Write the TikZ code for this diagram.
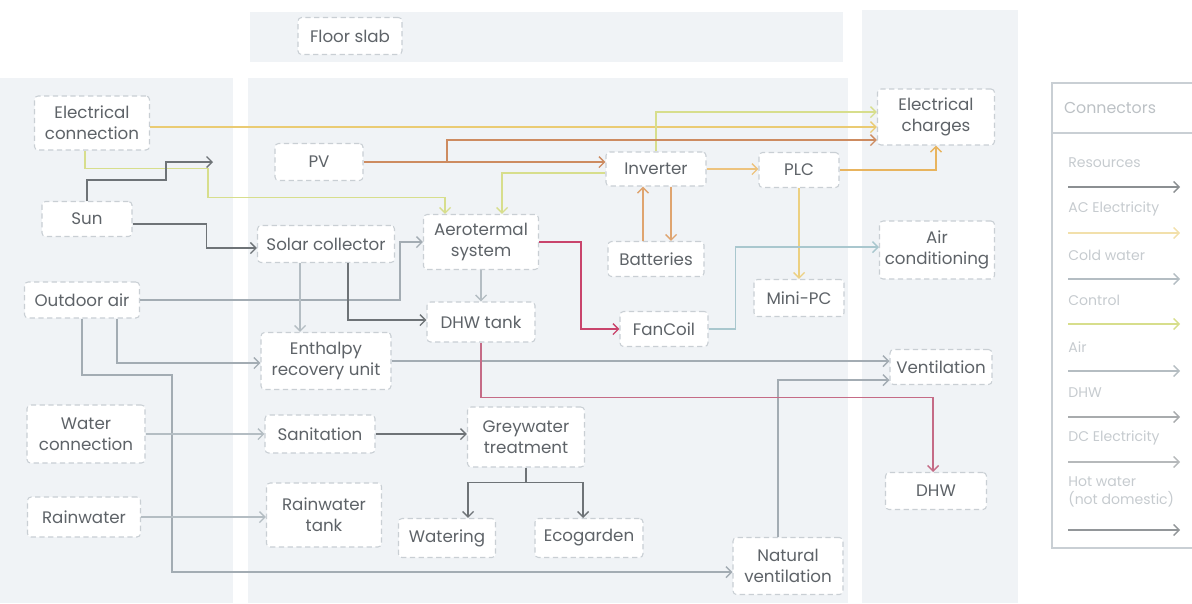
\documentclass[tikz,border=0pt]{standalone}
\usepackage{fontspec}
\setmainfont{Poppins}
\usepackage{xcolor}
\usepackage{tikz}
\usetikzlibrary{arrows.meta, positioning, calc}
\definecolor{Ink}{HTML}{5E6368}
\definecolor{Line}{HTML}{C9CFD4}
\definecolor{Panel}{HTML}{F0F3F6}
\definecolor{ResLine}{HTML}{6E7377}
\definecolor{AirLine}{HTML}{A3ACB3}
\definecolor{ColdLine}{HTML}{B4BDC3}
\definecolor{ACLine}{HTML}{EACB73}
\definecolor{CtrlLine}{HTML}{D7DE8C}
\definecolor{DCLine}{HTML}{CD8B60}
\definecolor{BattLine}{HTML}{DFA46F}
\definecolor{PlcLine}{HTML}{E8B45E}
\definecolor{HotLine}{HTML}{C9446C}
\definecolor{DHWLine}{HTML}{C56B86}
\definecolor{CoolLine}{HTML}{A9C7CE}
\definecolor{LegText}{HTML}{C6CBCF}

\begin{document}
\begin{tikzpicture}[
  x=0.02cm, y=-0.02cm,
  font=\fontsize{9.5}{12}\selectfont,
  box/.style={draw=Line, line width=0.6pt, dash pattern=on 3pt off 2pt, fill=white, rounded corners=2pt, align=center, text=Ink, inner sep=1pt},
  sz/.style 2 args={minimum width=#1*0.02cm, minimum height=#2*0.02cm},
  arrow/.style={-{Straight Barb[length=1.1mm, width=2.2mm]}, line width=0.8pt},
  res/.style={arrow, draw=ResLine},
  air/.style={arrow, draw=AirLine},
  cold/.style={arrow, draw=ColdLine},
  acline/.style={arrow, draw=ACLine},
  ctrl/.style={arrow, draw=CtrlLine},
  dcline/.style={arrow, draw=DCLine},
  hot/.style={arrow, draw=HotLine},
  legtext/.style={anchor=west, text=LegText, font=\fontsize{8}{10}\selectfont, align=left, inner sep=0pt}
]
\useasboundingbox (0,0) rectangle (1192,603);

% zones
\fill[Panel] (0,78) rectangle (233,603);
\fill[Panel] (248,78) rectangle (848,603);
\fill[Panel] (250,12) rectangle (843,62);
\fill[Panel] (862,10) rectangle (1018,603);

% outside
\node[box, sz={115}{54}] (elec) at (92,123) {Electrical\\connection};
\node[box, sz={90}{35}] (sun) at (87,219) {Sun};
\node[box, sz={115}{36}] (outdoor) at (82,300) {Outdoor air};
\node[box, sz={118}{58}] (water) at (86,434) {Water\\connection};
\node[box, sz={113}{40}] (rain) at (84,517) {Rainwater};

% building
\node[box, sz={104}{37}] (slab) at (350,36) {Floor slab};
\node[box, sz={88}{37}] (pv) at (319,162) {PV};
\node[box, sz={137}{37}] (solar) at (326,244) {Solar collector};
\node[box, sz={115}{55}] (aero) at (481,242) {Aerotermal\\system};
\node[box, sz={100}{34}] (inv) at (656,169) {Inverter};
\node[box, sz={80}{35}] (plc) at (799,170) {PLC};
\node[box, sz={96}{35}] (batt) at (656,259) {Batteries};
\node[box, sz={90}{37}] (minipc) at (799,298) {Mini-PC};
\node[box, sz={88}{35}] (fancoil) at (664,329) {FanCoil};
\node[box, sz={108}{40}] (tank) at (481,322) {DHW tank};
\node[box, sz={130}{57}] (erv) at (326,361) {Enthalpy\\recovery unit};
\node[box, sz={110}{38}] (sanit) at (320,434) {Sanitation};
\node[box, sz={117}{60}] (grey) at (526,437) {Greywater\\treatment};
\node[box, sz={115}{64}] (rtank) at (324,515) {Rainwater\\tank};
\node[box, sz={97}{39}] (wat) at (447,538) {Watering};
\node[box, sz={108}{39}] (eco) at (589,538) {Ecogarden};
\node[box, sz={110}{57}] (natvent) at (788,566) {Natural\\ventilation};

% uses
\node[box, sz={117}{56}] (charges) at (936,117) {Electrical\\charges};
\node[box, sz={115}{58}] (aircon) at (937,250) {Air\\conditioning};
\node[box, sz={102}{35}] (vent) at (941,367) {Ventilation};
\node[box, sz={101}{37}] (dhw) at (936,491) {DHW};

\coordinate (sunray) at (213,162);
\coordinate (pvsplit) at (447,162);

% electricity
\draw[acline] ($(elec.east)+(0,4)$) coordinate (e1) -- (e1 -| charges.west);
\draw[ctrl] (inv.north) |- ($(charges.west)+(0,-5)$);
\draw[ctrl] ($(elec.south)+(-7,0)$) -- ++(0,18) -- ++(123,0) -- ++(0,29) -| ($(aero.north)+(-36,0)$);
\draw[ctrl] ($(inv.west)+(0,4)$) -| ($(aero.north)+(21,0)$);
\draw[dcline] (pv.east) -- (pv.east -| inv.west);
\draw[dcline] (pvsplit) |- ($(charges.west)+(0,23)$);
\draw[arrow, draw=BattLine] ([xshift=-0.26cm]batt.north) -- ([xshift=-0.26cm]inv.south);
\draw[arrow, draw=BattLine] ([xshift=0.3cm]inv.south) -- ([xshift=0.3cm]batt.north);
\draw[arrow, draw=PlcLine!80] (inv.east) -- (inv.east -| plc.west);
\draw[arrow, draw=PlcLine] (plc.east) -| (charges.south);
\draw[arrow, draw=ACLine!90] (plc.south) -- (minipc.north);

% sun
\draw[res] (sun.north) |- (166,180) |- (sunray);
\draw[res] ($(sun.east)+(0,5)$) -- ++(74,0) |- ($(solar.west)+(0,4)$);

% air and heat
\draw[air] (outdoor.east) -- ++(260,0) |- (aero.west);
\draw[cold] ([xshift=-0.52cm]solar.south) -- ([xshift=-0.52cm]erv.north);
\draw[res] ($(solar.south)+(22,0)$) |- ($(tank.west)+(0,-2)$);
\draw[cold] (aero.south) -- (tank.north);
\draw[hot] (aero.east) -- ++(42,0) |- (fancoil.west);
\draw[arrow, draw=CoolLine] (fancoil.east) -- ++(27,0) |- ($(aircon.west)+(0,-3)$);
\draw[air] ($(outdoor.south)+(35,0)$) |- ($(erv.west)+(0,2)$);
\draw[air] (outdoor.south) |- (172,375) |- ($(natvent.west)+(0,6)$);
\draw[air] (erv.east) -- (erv.east -| vent.west);
\draw[air] ($(natvent.north)+(-10,0)$) |- ($(vent.west)+(0,13)$);
\draw[arrow, draw=DHWLine] (tank.south) -- ++(0,55) -| ($(dhw.north)+(-3,0)$);

% water
\draw[cold] (water.east) -- (water.east -| sanit.west);
\draw[res] (sanit.east) -- (sanit.east -| grey.west);
\draw[res] (grey.south) -- ++(0,15) coordinate (gsplit) -| ($(wat.north)+(21,0)$);
\draw[res] (gsplit) -| ($(eco.north)+(-6,0)$);
\draw[cold] (rain.east) -- (rain.east -| rtank.west);

% legend
\draw[Line, line width=0.6pt] (1192,83) -- (1052,83) -- (1052,548) -- (1192,548);
\draw[Line, line width=0.6pt] (1052,133) -- (1192,133);
\node[text=LegText!90!Ink, font=\fontsize{9}{11}\selectfont] (legtitle) at (1110,108) {Connectors};
\foreach \lab/\ly/\col in {Resources/163/ResLine!80, AC Electricity/209/ACLine!60, Cold water/255/ColdLine, Control/300/CtrlLine, Air/347/AirLine!80, DHW/393/ResLine!60, DC Electricity/438/ResLine!50}
{
  \node[legtext] at (1068,\ly) {\lab};
  \draw[arrow, draw=\col] (1068,\ly+24) -- (1180,\ly+24);
}
\node[legtext] at (1068,492) {Hot water\\(not domestic)};
\draw[arrow, draw=ResLine!75] (1068,530) -- (1180,530);
\end{tikzpicture}
\end{document}
